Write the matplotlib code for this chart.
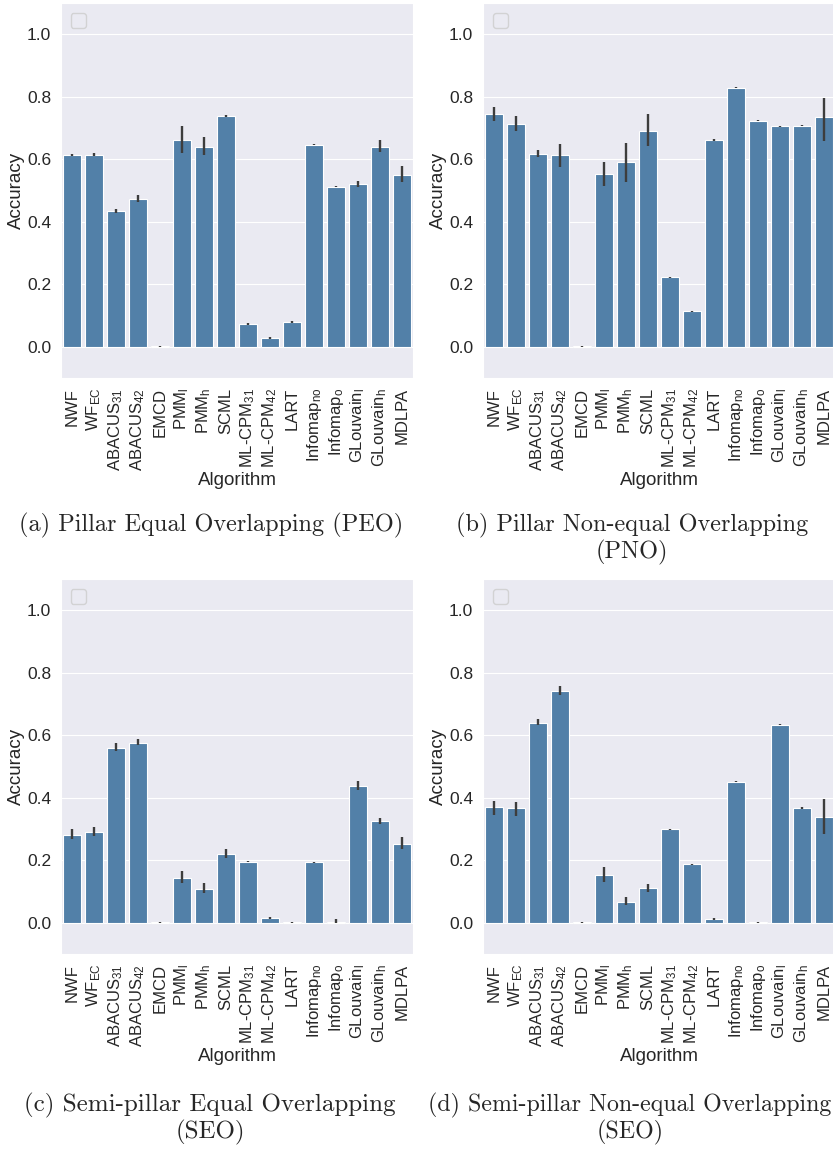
import numpy as np
import matplotlib
matplotlib.use("Agg")
from matplotlib import pyplot as plt
import seaborn as sns

sns.set_style("darkgrid")
plt.rcParams['font.family'] = ['Liberation Sans', 'DejaVu Sans']
plt.rcParams['mathtext.fontset'] = 'custom'
plt.rcParams['mathtext.rm'] = 'Liberation Sans'
plt.rcParams['mathtext.it'] = 'Liberation Sans:italic'

W, H = 833, 1150

algorithms = ["NWF", r"WF$_{\mathrm{EC}}$", r"ABACUS$_{\mathrm{31}}$", r"ABACUS$_{\mathrm{42}}$",
              "EMCD", r"PMM$_{\mathrm{l}}$", r"PMM$_{\mathrm{h}}$", "SCML",
              r"ML-CPM$_{\mathrm{31}}$", r"ML-CPM$_{\mathrm{42}}$", "LART",
              r"Infomap$_{\mathrm{no}}$", r"Infomap$_{\mathrm{o}}$",
              r"GLouvain$_{\mathrm{l}}$", r"GLouvain$_{\mathrm{h}}$", "MDLPA"]

# mean accuracy, lower / upper end of the error bar
peo_mean = [0.614, 0.615, 0.433, 0.474, 0.001, 0.663, 0.640, 0.739, 0.073, 0.028, 0.079, 0.647, 0.512, 0.521, 0.640, 0.550]
peo_lo   = [0.610, 0.611, 0.427, 0.462, 0.000, 0.620, 0.615, 0.736, 0.071, 0.026, 0.077, 0.645, 0.510, 0.511, 0.624, 0.526]
peo_hi   = [0.618, 0.619, 0.440, 0.487, 0.002, 0.708, 0.670, 0.742, 0.075, 0.030, 0.081, 0.649, 0.514, 0.531, 0.662, 0.578]

pno_mean = [0.744, 0.713, 0.616, 0.613, 0.001, 0.553, 0.590, 0.691, 0.222, 0.113, 0.662, 0.829, 0.723, 0.705, 0.707, 0.735]
pno_lo   = [0.724, 0.689, 0.608, 0.576, 0.000, 0.516, 0.526, 0.644, 0.220, 0.111, 0.660, 0.827, 0.721, 0.703, 0.705, 0.657]
pno_hi   = [0.767, 0.738, 0.630, 0.649, 0.002, 0.592, 0.653, 0.745, 0.224, 0.115, 0.664, 0.831, 0.725, 0.707, 0.709, 0.797]

seo_mean = [0.280, 0.290, 0.560, 0.575, 0.001, 0.143, 0.107, 0.220, 0.195, 0.015, 0.001, 0.194, 0.004, 0.438, 0.326, 0.252]
seo_lo   = [0.267, 0.277, 0.550, 0.568, 0.000, 0.126, 0.094, 0.207, 0.193, 0.013, 0.000, 0.192, -0.002, 0.425, 0.317, 0.237]
seo_hi   = [0.299, 0.308, 0.575, 0.587, 0.002, 0.165, 0.126, 0.236, 0.197, 0.017, 0.003, 0.196, 0.011, 0.454, 0.336, 0.273]

sno_mean = [0.370, 0.367, 0.640, 0.743, 0.001, 0.152, 0.068, 0.111, 0.299, 0.187, 0.011, 0.451, 0.001, 0.634, 0.367, 0.338]
sno_lo   = [0.346, 0.342, 0.634, 0.728, 0.000, 0.130, 0.058, 0.100, 0.297, 0.185, 0.009, 0.449, 0.000, 0.632, 0.365, 0.284]
sno_hi   = [0.391, 0.387, 0.651, 0.758, 0.002, 0.177, 0.083, 0.124, 0.301, 0.189, 0.014, 0.453, 0.002, 0.636, 0.369, 0.395]

captions = ["(a) Pillar Equal Overlapping (PEO)",
            "(b) Pillar Non-equal Overlapping\n(PNO)",
            "(c) Semi-pillar Equal Overlapping\n(SEO)",
            "(d) Semi-pillar Non-equal Overlapping\n(SEO)"]

panels = [(peo_mean, peo_lo, peo_hi), (pno_mean, pno_lo, pno_hi),
          (seo_mean, seo_lo, seo_hi), (sno_mean, sno_lo, sno_hi)]

# axes boxes in pixels: left, top, right, bottom
boxes = [(61, 3, 413, 378), (483, 3, 835, 378),
         (61, 579, 413, 954), (483, 579, 835, 954)]
# caption centre x, centre y (pixels), size
cap_pos = [(211, 525, 17.5), (632, 539, 17.5), (210, 1119, 18), (630, 1119, 17.2)]

fig = plt.figure(figsize=(W/100, H/100), dpi=100)

for i, (mean, lo, hi) in enumerate(panels):
    l, t, r, b = boxes[i]
    ax = fig.add_axes([l/W, 1-b/H, (r-l)/W, (b-t)/H])
    x = np.arange(len(algorithms))
    ax.bar(x, mean, width=0.8, color="#5280a8", edgecolor="white", linewidth=0.8, zorder=2)
    ax.vlines(x, lo, hi, color="#3d3d3d", linewidth=1.7, zorder=3)
    ax.set_xlim(-0.5, len(algorithms)-0.5)
    ax.set_ylim(-0.1, 1.1)
    ax.set_yticks([0.0, 0.2, 0.4, 0.6, 0.8, 1.0])
    ax.set_yticklabels(["0.0", "0.2", "0.4", "0.6", "0.8", "1.0"], fontsize=12.5)
    ax.set_xticks(x)
    ax.set_xticklabels(algorithms, rotation=90, fontsize=12)
    ax.grid(False, axis="x")
    ax.set_xlabel("Algorithm", fontsize=13.5, labelpad=1)
    ax.set_ylabel("Accuracy", fontsize=13.5)
    ax.yaxis.set_label_coords(-0.102, 0.5)
    ax.legend(handles=[], loc="upper left", fontsize=10, borderpad=0.54, borderaxespad=0.7)
    cx, cy, fs = cap_pos[i]
    fig.text(cx/W, 1-cy/H, captions[i], ha="center", va="center",
             fontsize=fs, family="cmr10", linespacing=1.1)

fig.savefig("out.png", dpi=100)
